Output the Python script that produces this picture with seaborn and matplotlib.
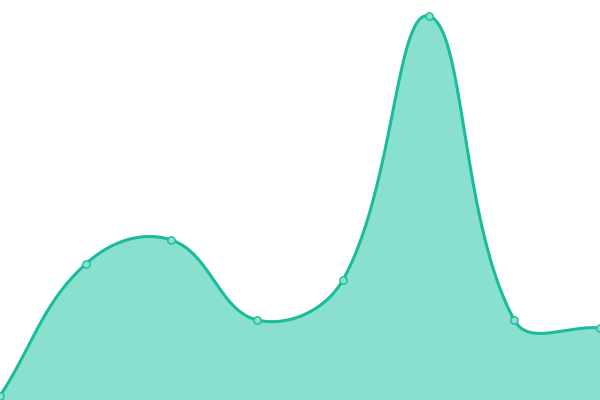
import numpy as np
import matplotlib
matplotlib.use("Agg")
import matplotlib.pyplot as plt
import seaborn as sns
import pandas as pd

categories = ["A", "B", "C", "D", "E", "F", "G", "H"]
values = [1, 34, 40, 20, 30, 96, 20, 18]

LINE = "#1abc9c"
FILL = "#8ae0cf"
TENSION = 0.4

sns.set_theme(style="white")
fig = plt.figure(figsize=(6, 4), dpi=100)
ax = fig.add_axes([0, 0, 1, 1])
ax.set_xlim(0, len(categories) - 1)
ax.set_ylim(0, 100)
ax.axis("off")

# spline (tension-based bezier) computed in display pixel space
xs = np.arange(len(values), dtype=float)
pts = ax.transData.transform(np.column_stack([xs, values]))
n = len(pts)
cp_prev = [None] * n
cp_next = [None] * n
for i in range(n):
    p = pts[i]
    prev = pts[i - 1] if i > 0 else p
    nxt = pts[i + 1] if i < n - 1 else p
    d01 = np.hypot(*(p - prev))
    d12 = np.hypot(*(nxt - p))
    tot = d01 + d12
    s01 = d01 / tot if tot else 0
    s12 = d12 / tot if tot else 0
    cp_prev[i] = p - TENSION * s01 * (nxt - prev)
    cp_next[i] = p + TENSION * s12 * (nxt - prev)

t = np.linspace(0, 1, 80)[:, None]
curve = []
for i in range(n - 1):
    a, b = pts[i], pts[i + 1]
    c0, c1 = cp_next[i], cp_prev[i + 1]
    seg = (1 - t) ** 3 * a + 3 * (1 - t) ** 2 * t * c0 + 3 * (1 - t) * t ** 2 * c1 + t ** 3 * b
    curve.append(seg if i == 0 else seg[1:])
curve = np.vstack(curve)
cdata = ax.transData.inverted().transform(curve)

ax.fill_between(cdata[:, 0], cdata[:, 1], 0, color=FILL, lw=0, zorder=1)
ax.plot(cdata[:, 0], cdata[:, 1], color=LINE, lw=2.2, zorder=2, solid_capstyle="round")

df = pd.DataFrame({"x": xs, "y": values})
sns.scatterplot(data=df, x="x", y="y", ax=ax, s=28, color=FILL, edgecolor=LINE,
                linewidth=1.0, zorder=3, clip_on=False)
ax.axis("off")
fig.savefig("out.png", dpi=100)
